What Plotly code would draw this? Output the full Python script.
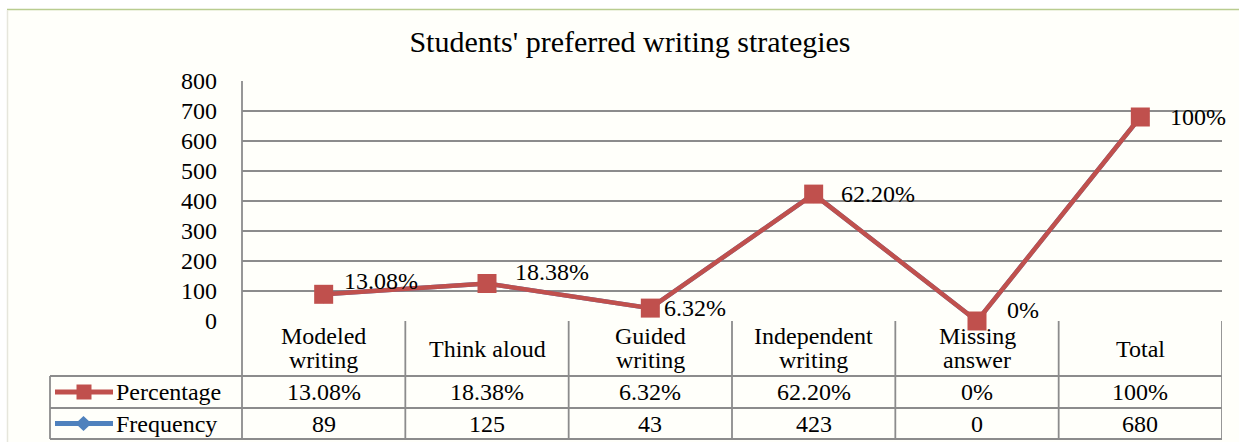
import plotly.graph_objects as go

categories = ["Modeled writing", "Think aloud", "Guided writing", "Independent writing", "Missing answer", "Total"]
header_lines = [["Modeled", "writing"], ["Think aloud"], ["Guided", "writing"], ["Independent", "writing"],
                ["Missing", "answer"], ["Total"]]
frequency = [89, 125, 43, 423, 0, 680]
percentage = ["13.08%", "18.38%", "6.32%", "62.20%", "0%", "100%"]
y_ticks = [0, 100, 200, 300, 400, 500, 600, 700, 800]

W, H = 1239, 442
L, R, T, B = 242, 1222, 81, 321
FONT = "Liberation Serif"
RED = "#C0504D"
BLUE = "#4F81BD"
GRID = "#8c8c8c"
FS = 24

# label offsets (pixels) for the data labels: (xshift, yshift)
label_offsets = [(18, 13), (26, 12), (12, 0), (25, 0), (28, 11), (28, 0)]


def py(p):
    return (B - p) / (B - T)


def px(p):
    return (p - L) / (R - L)


fig = go.Figure()

fig.add_trace(go.Scatter(
    x=categories, y=frequency, mode="lines+markers", name="Frequency",
    line=dict(color=BLUE, width=4.5), marker=dict(symbol="diamond", size=14, color=BLUE),
    showlegend=False, hoverinfo="skip"))

fig.add_trace(go.Scatter(
    x=categories, y=frequency, mode="lines+markers", name="Percentage",
    line=dict(color=RED, width=4.5), marker=dict(symbol="square", size=19, color=RED),
    showlegend=False, cliponaxis=False))

shapes = []
shapes.append(dict(type="rect", xref="paper", yref="paper", x0=px(7), x1=px(W + 5), y0=py(10), y1=py(H + 5),
                   fillcolor="#fffffa", line=dict(width=0), layer="below"))
shapes.append(dict(type="line", xref="paper", yref="paper", x0=px(7), x1=px(W), y0=py(9.5), y1=py(9.5),
                   line=dict(color="#b9cc8f", width=1.5)))
shapes.append(dict(type="line", xref="paper", yref="paper", x0=px(7.5), x1=px(7.5), y0=py(10), y1=py(H),
                   line=dict(color="#e6e6dc", width=1.5)))

tl = dict(color=GRID, width=1.8)
shapes.append(dict(type="line", xref="paper", yref="paper", x0=0, x1=0, y0=1, y1=py(439), line=tl))
for i in range(len(categories)):
    shapes.append(dict(type="line", xref="x", yref="paper", x0=i + 0.5, x1=i + 0.5, y0=0, y1=py(439), line=tl))
for yy in [376, 408, 439]:
    shapes.append(dict(type="line", xref="paper", yref="paper", x0=px(50), x1=1, y0=py(yy), y1=py(yy), line=tl))
shapes.append(dict(type="line", xref="paper", yref="paper", x0=px(50), x1=px(50), y0=py(376), y1=py(439), line=tl))

for yc, col, kind in [(392, RED, "square"), (423.5, BLUE, "diamond")]:
    shapes.append(dict(type="line", xref="paper", yref="paper", x0=px(55), x1=px(113), y0=py(yc), y1=py(yc),
                       line=dict(color=col, width=5)))
    if kind == "square":
        shapes.append(dict(type="rect", xref="paper", yref="paper", x0=px(76.5), x1=px(91.5), y0=py(yc - 7.5),
                           y1=py(yc + 7.5), fillcolor=col, line=dict(width=0)))
    else:
        path = "M {} {} L {} {} L {} {} L {} {} Z".format(px(75.5), py(yc), px(83.5), py(yc - 7.5),
                                                        px(91.5), py(yc), px(83.5), py(yc + 7.5))
        shapes.append(dict(type="path", xref="paper", yref="paper", path=path, fillcolor=col, line=dict(width=0)))

annotations = []
tf = dict(family=FONT, size=FS, color="black")
for i, c in enumerate(categories):
    annotations.append(dict(x=c, xref="x", y=frequency[i], yref="y", text=percentage[i], showarrow=False,
                            font=tf, xanchor="left", yanchor="middle",
                            xshift=label_offsets[i][0], yshift=label_offsets[i][1]))
    lines = header_lines[i]
    ys = [348.5] if len(lines) == 1 else [336, 360]
    for txt, yl in zip(lines, ys):
        annotations.append(dict(x=c, xref="x", y=py(yl), yref="paper", text=txt, showarrow=False,
                                font=tf, xanchor="center", yanchor="middle"))
    annotations.append(dict(x=c, xref="x", y=py(392), yref="paper", text=percentage[i], showarrow=False,
                            font=tf, xanchor="center", yanchor="middle"))
    annotations.append(dict(x=c, xref="x", y=py(423.5), yref="paper", text=str(frequency[i]), showarrow=False,
                            font=tf, xanchor="center", yanchor="middle"))
for yc, lab in [(392, "Percentage"), (423.5, "Frequency")]:
    annotations.append(dict(x=px(114), xref="paper", y=py(yc), yref="paper", text=lab, showarrow=False,
                            font=tf, xanchor="left", yanchor="middle"))

fig.update_layout(
    width=W, height=H,
    margin=dict(l=L, r=W - R, t=T, b=H - B),
    paper_bgcolor="white", plot_bgcolor="rgba(0,0,0,0)",
    title=dict(text="Students' preferred writing strategies", x=630 / W,
               xanchor="center", y=1 - 41 / H, yanchor="middle",
               font=dict(family=FONT, size=30, color="black")),
    xaxis=dict(type="category", categoryorder="array", categoryarray=categories, range=[-0.5, 5.5],
               showticklabels=False, showgrid=False, showline=False, zeroline=False, fixedrange=True),
    yaxis=dict(range=[0, 800], tickvals=y_ticks, ticktext=[str(v) for v in y_ticks], showgrid=True,
               gridcolor=GRID, gridwidth=1.8, zeroline=False, showline=False, ticks="",
               ticklabelstandoff=24, tickfont=dict(family=FONT, size=FS, color="black"), fixedrange=True),
    shapes=shapes, annotations=annotations, showlegend=False,
)

fig.write_html("out.html")
